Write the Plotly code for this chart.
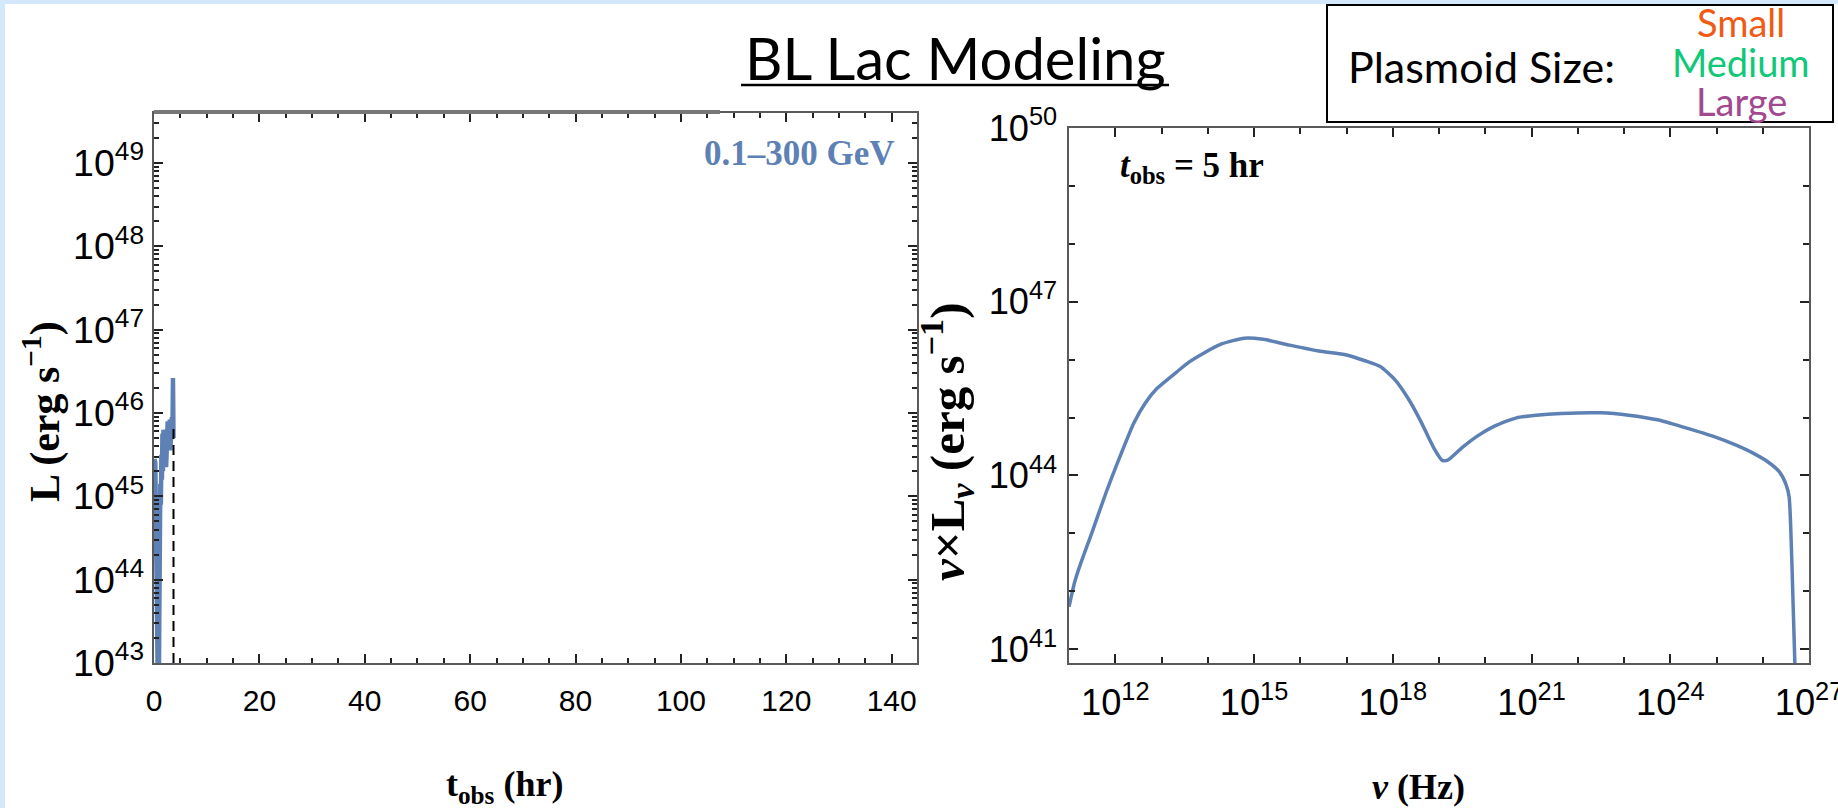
import plotly.graph_objects as go

W, H = 1838, 808

# ---------------- data ----------------
# Left panel: 0.1-300 GeV light curve (log10 L) vs t_obs (hr)
t_hr = [0.1, 0.25, 0.4, 0.55, 0.7, 0.85, 1.0, 1.1, 1.2, 1.3, 1.4, 1.5, 1.6, 1.7,
        1.8, 1.9, 2.0, 2.1, 2.2, 2.3, 2.4, 2.5, 2.6, 2.7, 2.8, 2.9, 3.0, 3.1,
        3.2, 3.3, 3.4, 3.5, 3.6, 3.65, 3.7]
logL_t = [45.45, 45.4, 44.5, 43.3, 42.0, 42.0, 43.5, 44.8, 45.15, 44.9, 45.5, 45.2,
          45.75, 45.3, 45.8, 45.4, 45.78, 45.5, 45.8, 45.35, 45.75, 45.55, 45.9,
          45.6, 45.9, 45.65, 45.92, 45.55, 45.9, 45.7, 45.95, 45.75, 46.42, 45.8, 45.7]
t_dash = [3.7, 3.7]
logL_dash = [43.0, 45.82]

# Right panel: SED at t_obs = 5 hr (log10 nu, log10 nuL_nu)
log_nu = [11.0, 11.12, 11.24, 11.49, 11.8, 12.1, 12.4, 12.65, 12.9, 13.32, 13.6,
          13.93, 14.3, 14.79, 15.2, 15.77, 16.4, 17.0, 17.4, 17.73, 18.05, 18.34,
          18.59, 18.89, 19.07, 19.2, 19.5, 19.81, 20.2, 20.66, 21.1, 21.64, 22.5,
          23.1, 23.72, 24.3, 24.95, 25.4, 25.8, 26.1, 26.36, 26.5, 26.57, 26.63, 26.7]
log_nuLnu = [41.73, 42.15, 42.45, 43.0, 43.7, 44.32, 44.9, 45.25, 45.5, 45.78,
             45.96, 46.12, 46.27, 46.37, 46.35, 46.25, 46.15, 46.08, 45.98, 45.88,
             45.65, 45.32, 44.96, 44.47, 44.26, 44.27, 44.48, 44.67, 44.85, 44.99,
             45.04, 45.07, 45.08, 45.04, 44.96, 44.83, 44.67, 44.53, 44.38, 44.24,
             44.06, 43.85, 43.63, 42.5, 40.6]

BLUE = "#5e81b5"
FRAME = "#5a5a5a"
TICK = "#222222"

def px(x):
    return x / W

def py(y):
    return 1 - y / H

fig = go.Figure()
fig.add_trace(go.Scatter(x=t_hr, y=[10 ** v for v in logL_t], mode="lines",
                         line=dict(color=BLUE, width=4.5), xaxis="x", yaxis="y"))
fig.add_trace(go.Scatter(x=t_dash, y=[10 ** v for v in logL_dash], mode="lines",
                         line=dict(color="black", width=2, dash="10px,6px"),
                         xaxis="x", yaxis="y"))
fig.add_trace(go.Scatter(x=[10 ** v for v in log_nu], y=[10 ** v for v in log_nuLnu],
                         mode="lines", line=dict(color=BLUE, width=3.5, shape="spline",
                                                 smoothing=0.6),
                         xaxis="x2", yaxis="y2"))

common = dict(showline=True, linecolor=FRAME, linewidth=2, mirror="ticks",
              ticks="inside", ticklen=9, tickwidth=1.5, tickcolor=TICK,
              showgrid=False, zeroline=False, automargin=False,
              ticklabeloverflow="allow")
lfont = dict(family="Liberation Sans", size=30, color="black")
rfont = dict(family="Liberation Sans", size=29, color="black")

fig.update_layout(
    template="none",
    width=W, height=H, autosize=False, margin=dict(l=0, r=0, t=0, b=0, pad=0),
    paper_bgcolor="white", plot_bgcolor="white", showlegend=False,
    xaxis=dict(domain=[px(154), px(917)], range=[0, 144.8], anchor="y",
               dtick=20, tick0=0, ticklabelstandoff=10, tickfont=lfont,
               minor=dict(dtick=5, tick0=0, ticks="inside", ticklen=5,
                          tickwidth=1.5, tickcolor=TICK),
               **common),
    yaxis=dict(domain=[py(663), py(113)], type="log", range=[43, 49.6], anchor="x",
               dtick=1, exponentformat="power", ticklabelstandoff=2, tickfont=lfont,
               minor=dict(dtick="D1", ticks="inside", ticklen=5,
                          tickwidth=1.5, tickcolor=TICK),
               **common),
    xaxis2=dict(domain=[px(1069), px(1809)], type="log", range=[11, 27.0001],
                anchor="y2", dtick=3, tick0=12, exponentformat="power",
                ticklabelstandoff=8, tickfont=rfont,
                minor=dict(dtick=1, tick0=11, ticks="inside", ticklen=6,
                           tickwidth=1.5, tickcolor=TICK),
                **common),
    yaxis2=dict(domain=[py(663), py(128)], type="log", range=[40.76, 50.0001],
                anchor="x2", dtick=3, tick0=41, exponentformat="power",
                ticklabelstandoff=4, tickfont=rfont,
                minor=dict(dtick=1, tick0=41, ticks="inside", ticklen=6,
                           tickwidth=1.5, tickcolor=TICK),
                **common),
)

serif = "Liberation Serif"
ann = [
    dict(text="BL Lac Modeling", x=px(955), y=py(58), font=dict(family="Lato", size=58, color="black")),
    dict(text="Plasmoid Size:", x=px(1346), y=py(67), xanchor="left",
         font=dict(family="Lato", size=43, color="black")),
    dict(text="Small", x=px(1741), y=py(22), font=dict(family="Lato", size=38, color="#f05a14")),
    dict(text="Medium", x=px(1741), y=py(62), font=dict(family="Lato", size=38, color="#10c878")),
    dict(text="Large", x=px(1741), y=py(101), font=dict(family="Lato", size=38, color="#a3478f")),
    dict(text="<b>0.1–300 GeV</b>", x=px(897), y=py(153), xanchor="right",
         font=dict(family=serif, size=35, color=BLUE)),
    dict(text="<b><i>t</i><sub>obs</sub> = 5 hr</b>", x=px(1118), y=py(168), xanchor="left",
         font=dict(family=serif, size=35, color="black")),
    dict(text="<b>L (erg s<sup>−1</sup>)</b>", x=px(42), y=py(412), textangle=-90,
         font=dict(family=serif, size=42, color="black")),
    dict(text="<b>t<sub>obs</sub> (hr)</b>", x=px(504), y=py(786),
         font=dict(family=serif, size=36, color="black")),
    dict(text="<b><i>ν</i> (Hz)</b>", x=px(1418), y=py(787),
         font=dict(family=serif, size=36, color="black")),
    dict(text="<b><i>ν</i>×L<sub><i>ν</i></sub> (erg s<sup>−1</sup>)</b>", x=px(946), y=py(442),
         textangle=-90, font=dict(family=serif, size=49, color="black")),
]
for a in ann:
    a.setdefault("xanchor", "center")
    a.update(xref="paper", yref="paper", yanchor="middle", showarrow=False)
fig.update_layout(annotations=ann)

shapes = [
    dict(type="rect", x0=0, x1=px(5), y0=0, y1=1, fillcolor="#d4e8fb", line=dict(width=0)),
    dict(type="rect", x0=0, x1=1, y0=py(4), y1=1, fillcolor="#d4e8fb", line=dict(width=0)),
    dict(type="rect", x0=px(1327), x1=px(1833), y0=py(122), y1=py(5),
         fillcolor="white", line=dict(color="black", width=2)),
    dict(type="line", x0=px(741), x1=px(1169), y0=py(85), y1=py(85),
         line=dict(color="black", width=2.5)),
    dict(type="line", x0=px(154), x1=px(720), y0=py(112), y1=py(112),
         line=dict(color="#777777", width=4)),
]
for s in shapes:
    s.update(xref="paper", yref="paper")
fig.update_layout(shapes=shapes)

fig.write_html("out.html",
               post_script="document.body.style.margin='0';document.body.style.overflow='hidden';")
